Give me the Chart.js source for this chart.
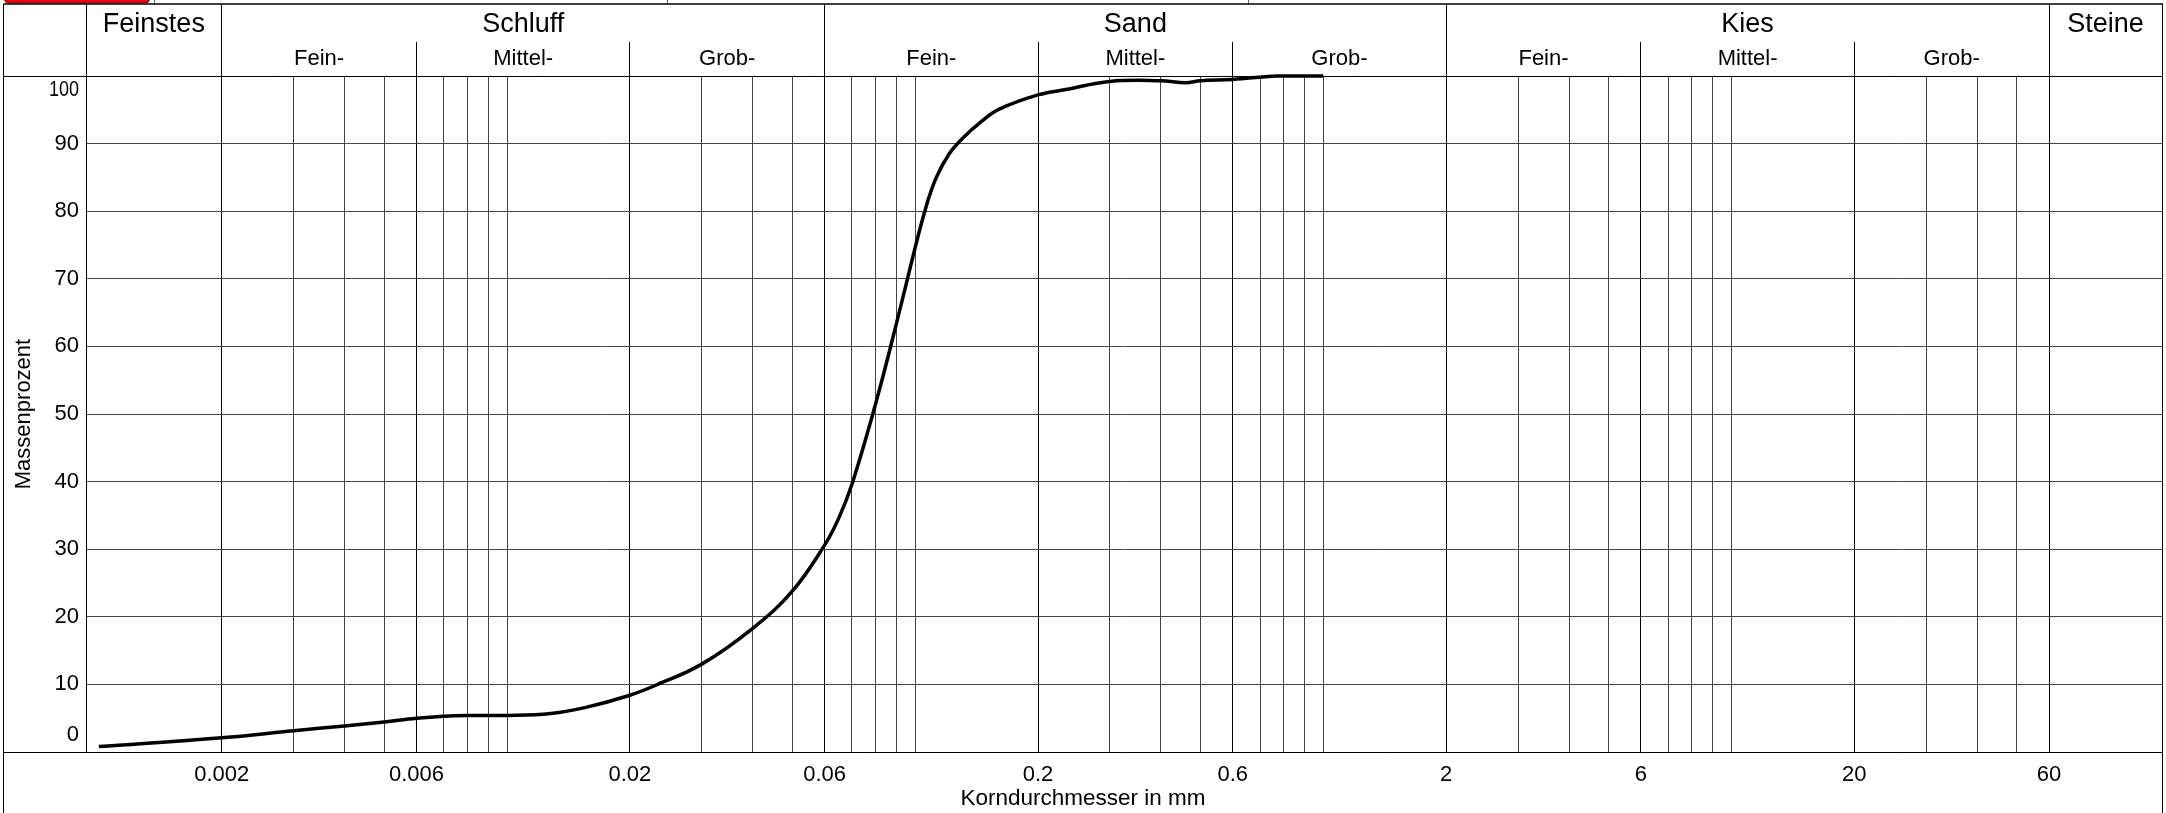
<!DOCTYPE html>
<html lang="de">
<head>
<meta charset="utf-8">
<title>Körnungslinie</title>
<script src="https://cdn.jsdelivr.net/npm/chart.js@4.4.1/dist/chart.umd.min.js"></script>
<style>
  html, body { margin: 0; padding: 0; background: #fff; }
  #wrap { width: 2166px; height: 813px; }
</style>
</head>
<body>
<div id="wrap"><canvas id="chart" width="2166" height="813"></canvas></div>
<script>
// Korndurchmesser in mm und Massenprozent (Durchgang)
const korn = [0.001, 0.002, 0.003, 0.004, 0.005, 0.006, 0.007, 0.008, 0.01, 0.0128,
  0.0156, 0.02, 0.0234, 0.03, 0.04, 0.05, 0.06, 0.065, 0.07, 0.08,
  0.09, 0.1, 0.1063, 0.1125, 0.1212, 0.1307, 0.1462, 0.1607, 0.2, 0.234,
  0.3, 0.4, 0.46, 0.5, 0.6, 0.77, 1.0];
const massen = [0.8, 2.1, 3.15, 3.85, 4.45, 5.0, 5.3, 5.4, 5.4, 5.7,
  6.6, 8.4, 10.0, 13.0, 18.3, 23.8, 30.6, 34.6, 39.6, 51.5,
  63.4, 74.6, 80.6, 84.9, 88.5, 90.8, 93.4, 95.1, 97.2, 98.0,
  99.2, 99.3, 99.0, 99.3, 99.5, 100, 100];

// senkrechte Gitterlinien und beschriftete Werte der x-Achse
const gridX = [0.002, 0.003, 0.004, 0.005, 0.006, 0.007, 0.008, 0.009, 0.01,
  0.02, 0.03, 0.04, 0.05, 0.06, 0.07, 0.08, 0.09, 0.1,
  0.2, 0.3, 0.4, 0.5, 0.6, 0.7, 0.8, 0.9, 1,
  2, 3, 4, 5, 6, 7, 8, 9, 10,
  20, 30, 40, 50, 60];
const labelX = [0.002, 0.006, 0.02, 0.06, 0.2, 0.6, 2, 6, 20, 60];
const yTicks = [0, 10, 20, 30, 40, 50, 60, 70, 80, 90, 100];

// Bodenarten im Kopf
const gruppen = [
  ['Feinstes', null, 0.002],
  ['Schluff', 0.002, 0.06],
  ['Sand', 0.06, 2],
  ['Kies', 2, 60],
  ['Steine', 60, null]
];
const unterGrenzen = [0.006, 0.02, 0.2, 0.6, 6, 20];
const unterNamen = ['Fein-', 'Mittel-', 'Grob-'];

const FONT = '"Liberation Sans", Arial, Helvetica, sans-serif';

function align(p) { return Math.round(p - 0.5) + 0.5; }

const rahmen = {
  id: 'rahmen',
  beforeDraw(chart) {
    const c = chart.ctx;
    c.save();
    c.fillStyle = '#fff';
    c.fillRect(0, 0, chart.width, chart.height);
    c.restore();
  },
  afterDraw(chart) {
    const c = chart.ctx, a = chart.chartArea;
    const xs = chart.scales.x, ys = chart.scales.y;
    const L = 3.5, R = align(a.right), T = 4, SUB = 42;
    const top = align(a.top), bot = align(a.bottom);
    const px = v => v == null ? null : align(xs.getPixelForValue(v));

    function line(x1, y1, x2, y2, w, col) {
      c.beginPath();
      c.lineWidth = w || 1;
      c.strokeStyle = col || '#000';
      c.moveTo(x1, y1);
      c.lineTo(x2, y2);
      c.stroke();
    }

    c.save();
    // Reste der Leiste darüber
    c.fillStyle = '#e30613';
    c.strokeStyle = '#9b0000';
    c.lineWidth = 1;
    c.beginPath();
    c.roundRect(4.5, -10, 145, 13, 4);
    c.fill();
    c.stroke();
    [154.5, 667.5, 1248.5].forEach(x => line(x, 0, x, T, 1, '#666'));

    // Aussenrahmen
    line(L, T, R + 0.5, T, 1.5);
    line(L, T, L, chart.height);
    line(R, T, R, chart.height);
    line(L, top, R, top);
    line(L, bot, a.left, bot);

    // Kopf: Trennlinien
    line(align(a.left), T, align(a.left), top);
    gruppen.forEach(g => { if (g[1] != null) line(px(g[1]), T, px(g[1]), top); });
    unterGrenzen.forEach(v => line(px(v), SUB, px(v), top));

    // Kopf: Texte
    c.fillStyle = '#000';
    c.textAlign = 'center';
    c.textBaseline = 'alphabetic';
    c.font = '27px ' + FONT;
    gruppen.forEach(g => {
      const x1 = g[1] == null ? a.left : xs.getPixelForValue(g[1]);
      const x2 = g[2] == null ? a.right : xs.getPixelForValue(g[2]);
      c.fillText(g[0], (x1 + x2) / 2, 32);
    });
    c.font = '22px ' + FONT;
    [[0.002, 0.006, 0.02, 0.06], [0.06, 0.2, 0.6, 2], [2, 6, 20, 60]].forEach(b => {
      for (let i = 0; i < 3; i++) {
        const x1 = xs.getPixelForValue(b[i]), x2 = xs.getPixelForValue(b[i + 1]);
        c.fillText(unterNamen[i], (x1 + x2) / 2, 65);
      }
    });

    // y-Beschriftung
    c.textAlign = 'right';
    c.textBaseline = 'middle';
    c.font = '22px ' + FONT;
    yTicks.forEach(v => {
      let y = ys.getPixelForValue(v);
      if (v === 100) y += 14;
      if (v === 0) y -= 17;
      c.fillText(String(v), 79, y, 30);
    });

    // Achsentitel
    c.textAlign = 'center';
    c.textBaseline = 'alphabetic';
    c.font = '22.5px ' + FONT;
    c.fillText('Korndurchmesser in mm', (L + R) / 2, 805);
    c.save();
    c.translate(23.5, (a.top + a.bottom) / 2);
    c.rotate(-Math.PI / 2);
    c.textBaseline = 'middle';
    c.font = '22px ' + FONT;
    c.fillText('Massenprozent', 0, 0);
    c.restore();
    c.restore();
  }
};

new Chart(document.getElementById('chart'), {
  type: 'scatter',
  data: {
    datasets: [{
      data: korn.map((d, i) => ({ x: d, y: massen[i] })),
      showLine: true,
      borderColor: '#000',
      borderWidth: 3.5,
      pointRadius: 0,
      tension: 0.4,
      fill: false,
      clip: 6
    }]
  },
  options: {
    responsive: false,
    animation: false,
    devicePixelRatio: 1,
    layout: { padding: { left: 3, right: 4, top: 76, bottom: 0 } },
    plugins: { legend: { display: false }, tooltip: { enabled: false } },
    scales: {
      x: {
        type: 'logarithmic',
        min: 0.00093,
        max: 113.5,
        afterBuildTicks: s => { s.ticks = gridX.map(v => ({ value: v })); },
        afterFit: s => { s.height = 61; },
        grid: {
          drawTicks: false,
          lineWidth: 1,
          color: ctx => (ctx.tick && labelX.includes(ctx.tick.value)) ? '#000' : '#444'
        },
        border: { display: true, color: '#000', width: 1 },
        ticks: {
          autoSkip: false,
          maxRotation: 0,
          minRotation: 0,
          padding: 10,
          color: '#000',
          font: { family: FONT, size: 22 },
          callback: v => labelX.includes(v) ? String(v) : ''
        }
      },
      y: {
        min: 0,
        max: 100,
        afterBuildTicks: s => { s.ticks = yTicks.map(v => ({ value: v })); },
        afterFit: s => { s.width = 83; },
        grid: { drawTicks: false, lineWidth: 1, color: '#444' },
        border: { display: true, color: '#000', width: 1 },
        ticks: { display: false }
      }
    }
  },
  plugins: [rahmen]
});
</script>
</body>
</html>
